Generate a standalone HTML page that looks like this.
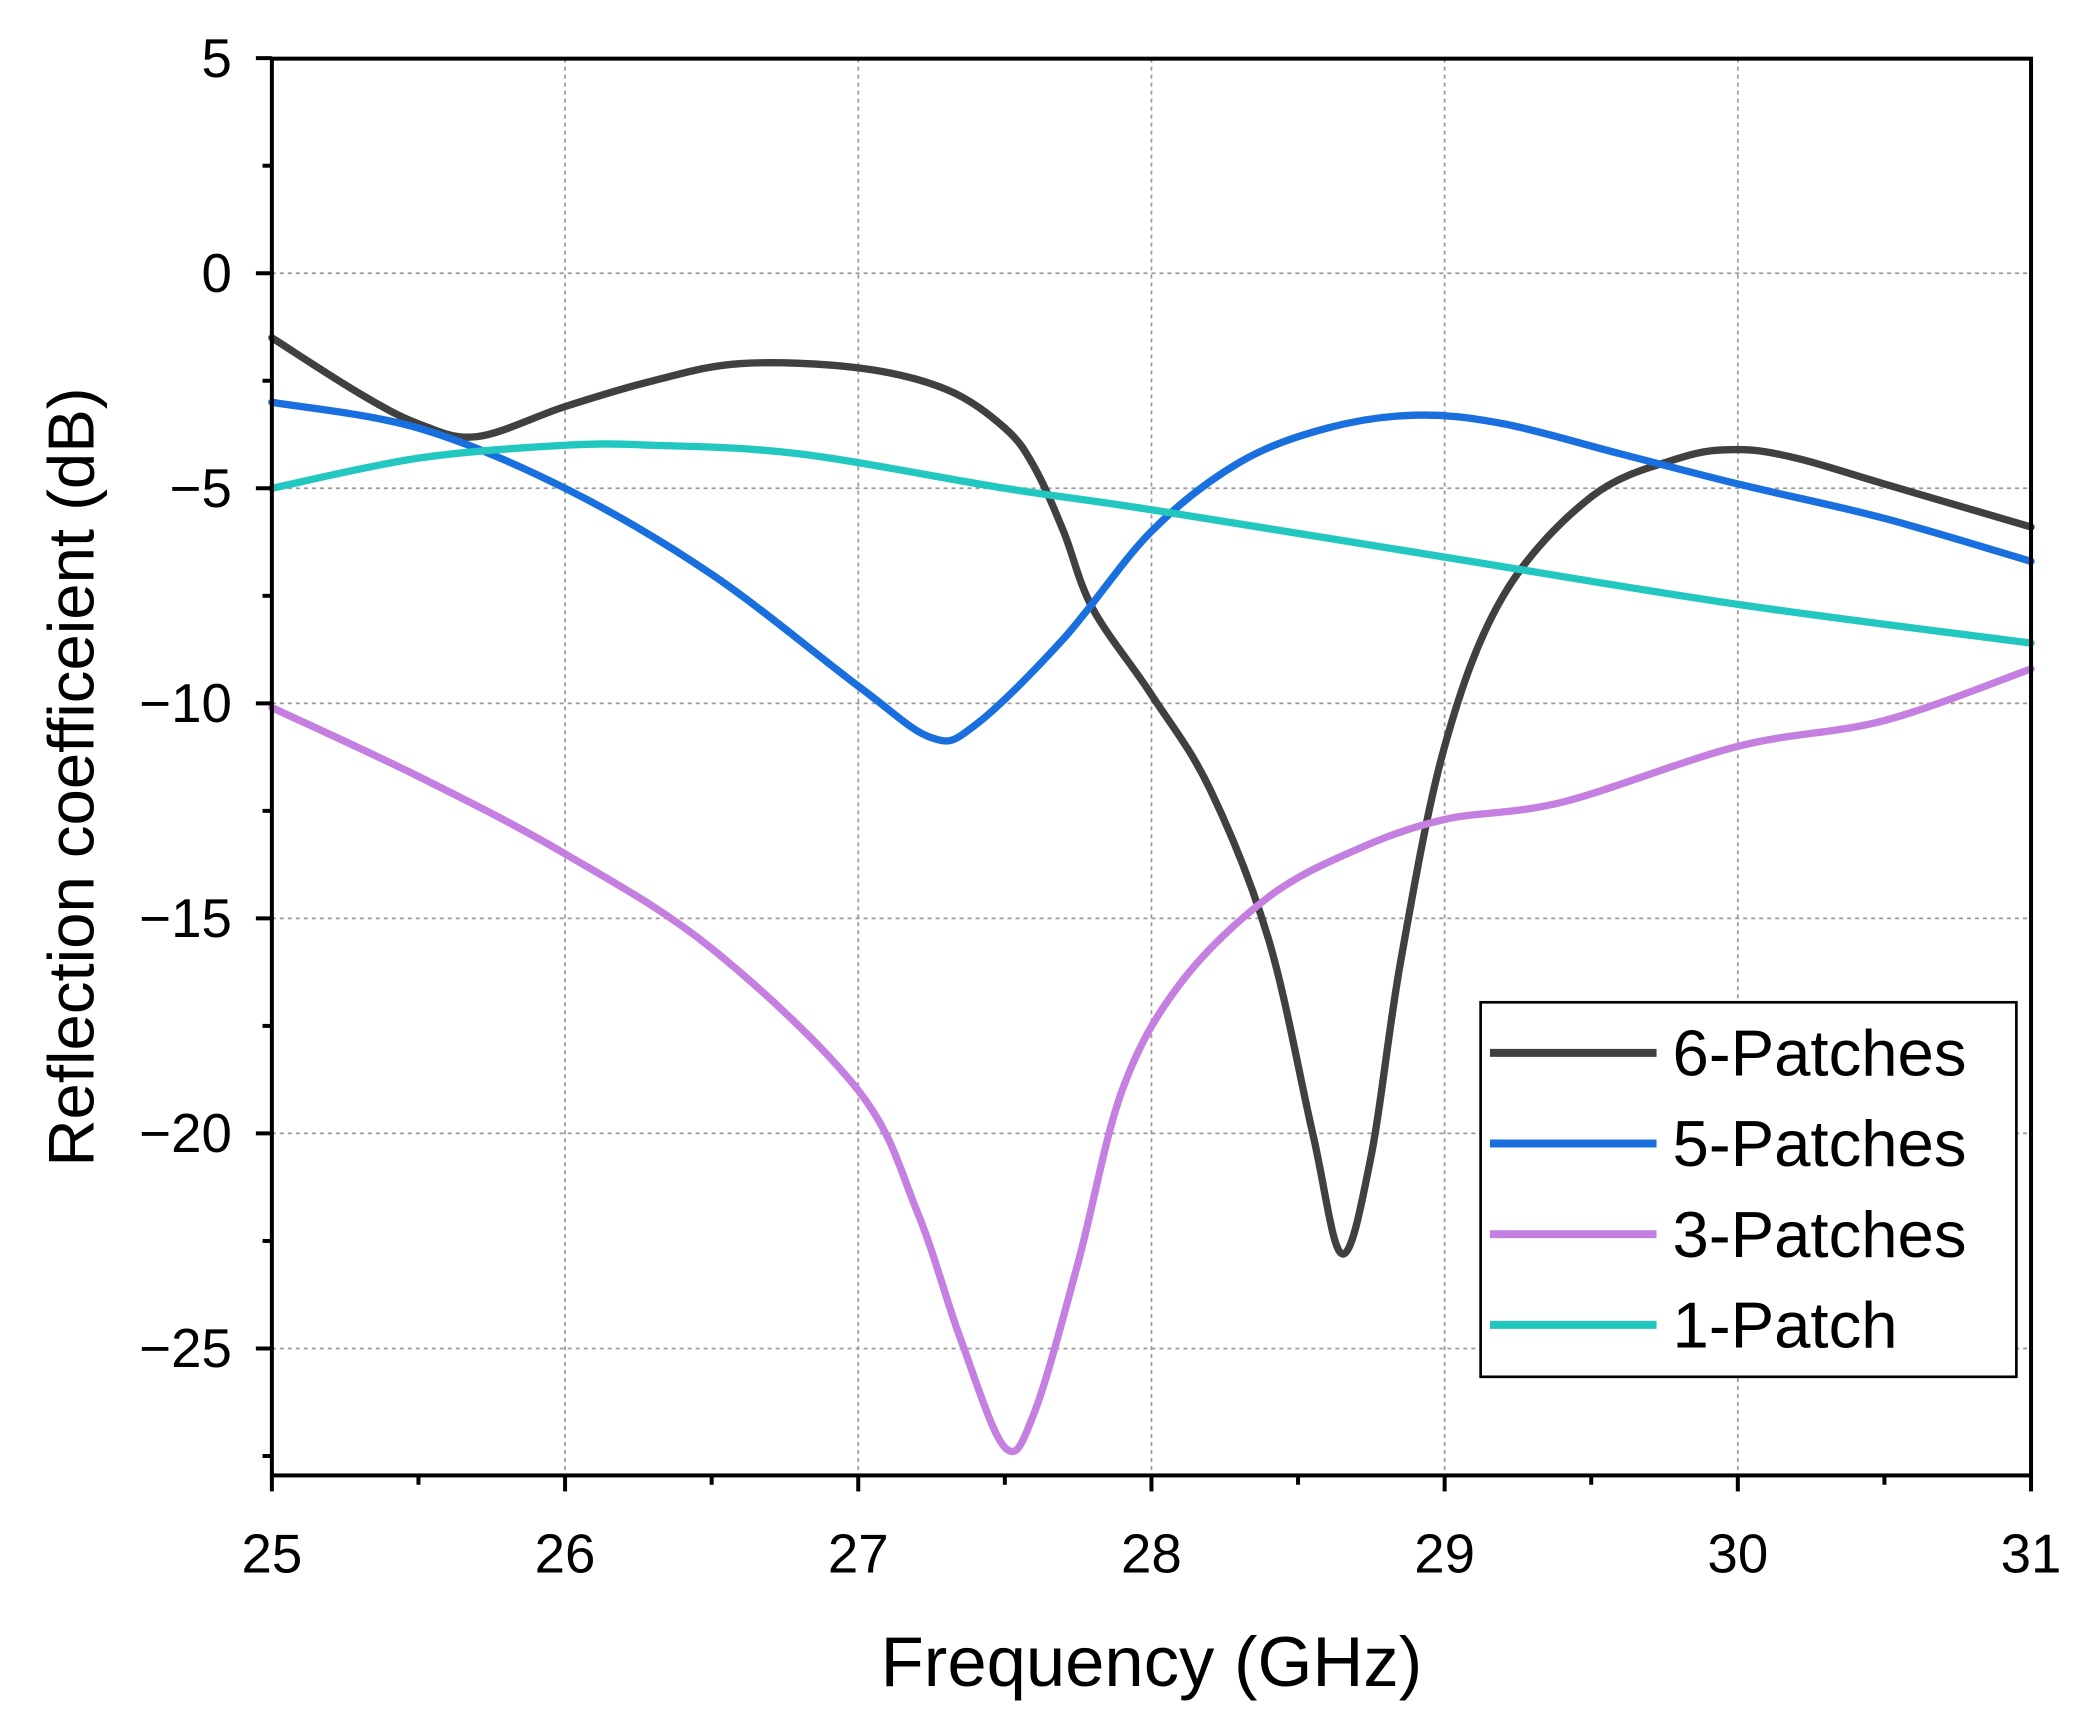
<!DOCTYPE html>
<html><head><meta charset="utf-8"><style>
html,body{margin:0;padding:0;background:#fff;}
svg{display:block;}
text{font-family:"Liberation Sans",Arial,sans-serif;fill:#000;}
</style></head><body>
<svg id="s" width="2079" height="1722" viewBox="0 0 1560 1292" preserveAspectRatio="none" xmlns="http://www.w3.org/2000/svg">
<rect width="1560" height="1292" fill="#fff"/>
<g id="grid" stroke="#999" stroke-width="1.3" stroke-dasharray="3,3"></g>
<g id="curves" fill="none" stroke-width="5.5" stroke-linejoin="round" stroke-linecap="round"></g>
<rect x="204" y="44" width="1320" height="1063" fill="none" stroke="#000" stroke-width="3"/>
<g id="ticks" stroke="#000" stroke-width="3"></g>
<g id="labels" font-size="41"></g>
<text x="864" y="1265" font-size="53" text-anchor="middle">Frequency (GHz)</text>
<text transform="translate(70,583) rotate(-90)" font-size="49" text-anchor="middle">Reflection coefficeient (dB)</text>
<rect x="1111" y="752" width="402" height="281" fill="#fff" stroke="#000" stroke-width="2"/>
<g stroke-width="6">
<line x1="1118" y1="790" x2="1243" y2="790" stroke="#404040"/>
<line x1="1118" y1="858" x2="1243" y2="858" stroke="#1a6fdf"/>
<line x1="1118" y1="926" x2="1243" y2="926" stroke="#c47fe0"/>
<line x1="1118" y1="994" x2="1243" y2="994" stroke="#22c8c0"/>
</g>
<g font-size="49">
<text x="1255" y="807">6-Patches</text>
<text x="1255" y="875">5-Patches</text>
<text x="1255" y="943">3-Patches</text>
<text x="1255" y="1011">1-Patch</text>
</g>
</svg>
<script>
var NS="http://www.w3.org/2000/svg";
function X(f){return 204+(f-25)*220;}
function Y(d){return 205-d*32.27;}
function el(p,t,a,txt){var e=document.createElementNS(NS,t);for(var k in a)e.setAttribute(k,a[k]);if(txt!=null)e.textContent=txt;document.getElementById(p).appendChild(e);}
for(var f=26;f<=30;f++)el("grid","line",{x1:X(f),y1:44,x2:X(f),y2:1107});
for(var d=0;d>=-25;d-=5)el("grid","line",{x1:204,y1:Y(d),x2:1524,y2:Y(d)});
for(var f=25;f<=31.001;f+=0.5){var maj=Math.abs(f-Math.round(f))<0.01;el("ticks","line",{x1:X(f),y1:1107,x2:X(f),y2:1107+(maj?12:7)});if(maj)el("labels","text",{x:X(f),y:1180,"text-anchor":"middle"},""+Math.round(f));}
for(var d=5;d>=-27.5;d-=2.5){var maj=Math.abs(d%5)<0.01;el("ticks","line",{x1:204,y1:Y(d),x2:204-(maj?12:7),y2:Y(d)});if(maj)el("labels","text",{x:174,y:Y(d)+14,"text-anchor":"end"},(d<0?"\u2212"+(-d):""+d));}
function curve(pts,col){var P=pts.map(function(p){return [X(p[0]),Y(p[1])];});var s="M"+P[0][0]+","+P[0][1];
for(var i=0;i<P.length-1;i++){var p0=P[i-1]||P[i],p1=P[i],p2=P[i+1],p3=P[i+2]||P[i+1];
s+=" C"+(p1[0]+(p2[0]-p0[0])/6)+","+(p1[1]+(p2[1]-p0[1])/6)+" "+(p2[0]-(p3[0]-p1[0])/6)+","+(p2[1]-(p3[1]-p1[1])/6)+" "+p2[0]+","+p2[1];}
el("curves","path",{d:s,stroke:col});}
curve([[25,-1.5],[25.3,-2.8],[25.5,-3.5],[25.7,-3.8],[26,-3.1],[26.3,-2.5],[26.6,-2.1],[27,-2.2],[27.3,-2.7],[27.5,-3.6],[27.6,-4.5],[27.7,-6],[27.8,-7.8],[28,-9.8],[28.2,-12],[28.4,-15.5],[28.55,-20],[28.65,-22.8],[28.75,-20.5],[28.85,-16],[29,-11],[29.2,-7.5],[29.5,-5.2],[29.8,-4.3],[30,-4.1],[30.2,-4.3],[30.5,-4.9],[31,-5.9]],"#404040");
curve([[25,-3],[25.5,-3.6],[26,-5],[26.5,-7],[27,-9.6],[27.25,-10.8],[27.4,-10.5],[27.7,-8.5],[28,-6],[28.3,-4.4],[28.6,-3.6],[28.9,-3.3],[29.2,-3.5],[29.6,-4.2],[30,-4.9],[30.5,-5.7],[31,-6.7]],"#1a6fdf");
curve([[25,-10.1],[25.5,-11.7],[26,-13.5],[26.5,-15.7],[27,-19],[27.2,-21.8],[27.35,-24.8],[27.5,-27.3],[27.6,-26.5],[27.75,-23],[27.9,-19],[28.1,-16.5],[28.4,-14.5],[28.7,-13.4],[29,-12.7],[29.4,-12.3],[30,-11],[30.5,-10.4],[31,-9.2]],"#c47fe0");
curve([[25,-5],[25.5,-4.3],[26,-4],[26.3,-4],[26.8,-4.2],[27.5,-5],[28,-5.5],[29,-6.6],[30,-7.7],[31,-8.6]],"#22c8c0");
</script>
</body></html>
